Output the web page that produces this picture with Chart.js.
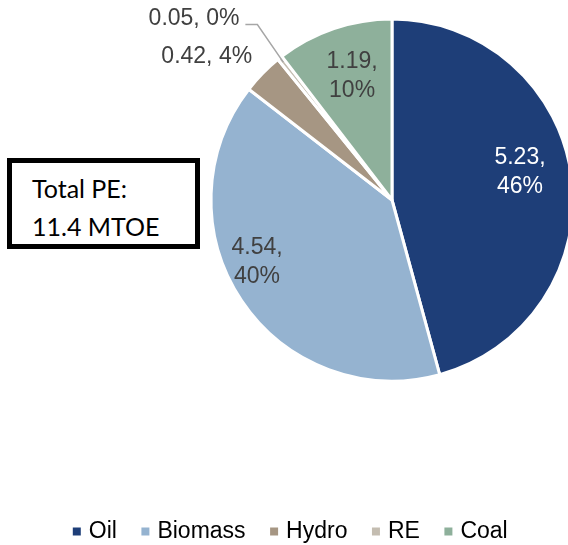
<!DOCTYPE html>
<html>
<head>
<meta charset="utf-8">
<title>Primary energy</title>
<script src="https://cdn.jsdelivr.net/npm/chart.js@4.4.1/dist/chart.umd.min.js"></script>
<style>
    html, body { margin: 0; padding: 0; background: #fff; }
    #wrap { position: relative; width: 568px; height: 545px; }
    #totalBox {
        position: absolute; left: 7px; top: 158px; width: 193px; height: 91px;
        box-sizing: border-box; border: 5px solid #000; background: #fff;
        font-family: Lato, "Open Sans", sans-serif; font-size: 25px; color: #000;
        padding: 6px 0 0 20px; line-height: 38px;
    }
</style>
</head>
<body>
<div id="wrap">
    <canvas id="pieChart" width="568" height="545"></canvas>
    <div id="totalBox">Total PE:<br>11.4 MTOE</div>
</div>
<script>
// data (MTOE)
const sources = ['Oil', 'Biomass', 'Hydro', 'RE', 'Coal'];
const values = [5.23, 4.54, 0.42, 0.05, 1.19];
const colors = ['#1e3e78', '#95b3d0', '#a69683', '#c4bdb1', '#8eb09b'];
const labelColors = ['#ffffff', '#404040', '#404040', '#404040', '#404040'];

// label placement: fraction of radius, angle shift in degrees
const labelPlace = [
    { r: 0.724, shift: -4.7, inside: true },
    { r: 0.82, shift: 9.2, inside: true },
    { r: 1.105, shift: 1.3 },
    { r: 1.31, shift: -1.8, leader: true },
    { r: 0.72, shift: 0.9, inside: true }
];

const total = values.reduce((a, b) => a + b, 0);
const labelFont = '23px "Liberation Sans", Arial, sans-serif';

// put the pie where the reference has it (legend stays centred on the page)
const pieCenter = { x: 392, y: 200 };
const pieRadius = 181;

const placePie = {
    id: 'placePie',
    afterLayout(chart) {
        const a = chart.chartArea;
        a.left = pieCenter.x - pieRadius;
        a.right = pieCenter.x + pieRadius;
        a.top = pieCenter.y - pieRadius;
        a.bottom = pieCenter.y + pieRadius;
        a.width = a.right - a.left;
        a.height = a.bottom - a.top;
    }
};

const sliceLabels = {
    id: 'sliceLabels',
    afterDatasetsDraw(chart) {
        const ctx = chart.ctx;
        const meta = chart.getDatasetMeta(0);
        ctx.save();
        ctx.font = labelFont;
        ctx.textBaseline = 'middle';
        meta.data.forEach((arc, i) => {
            const p = arc.getProps(['x', 'y', 'startAngle', 'endAngle', 'outerRadius'], true);
            const place = labelPlace[i];
            const mid = (p.startAngle + p.endAngle) / 2;
            const ang = mid + place.shift * Math.PI / 180;
            const lx = p.x + Math.cos(ang) * p.outerRadius * place.r;
            const ly = p.y + Math.sin(ang) * p.outerRadius * place.r;
            const val = values[i].toFixed(2);
            const pct = Math.round(values[i] / total * 100) + '%';
            ctx.fillStyle = labelColors[i];
            if (place.inside) {
                ctx.textAlign = 'center';
                ctx.fillText(val + ',', lx, ly - 14.5);
                ctx.fillText(pct, lx, ly + 14.5);
            } else {
                ctx.textAlign = 'right';
                ctx.fillText(val + ', ' + pct, lx, ly);
                if (place.leader) {
                    const ex = p.x + Math.cos(mid) * p.outerRadius * 0.97;
                    const ey = p.y + Math.sin(mid) * p.outerRadius * 0.97;
                    ctx.strokeStyle = '#a6a6a6';
                    ctx.lineWidth = 1.5;
                    ctx.beginPath();
                    ctx.moveTo(lx + 6, ly + 6);
                    ctx.lineTo(lx + 18, ly + 6);
                    ctx.lineTo(ex, ey);
                    ctx.stroke();
                }
            }
        });
        ctx.restore();
    }
};

new Chart(document.getElementById('pieChart'), {
    type: 'pie',
    data: {
        labels: sources,
        datasets: [{
            data: values,
            backgroundColor: colors,
            borderColor: '#ffffff',
            borderWidth: 3,
            radius: pieRadius,
            clip: false
        }]
    },
    options: {
        responsive: false,
        animation: false,
        layout: { padding: { left: 16, right: 0, top: 0, bottom: -8 } },
        plugins: {
            legend: {
                position: 'bottom',
                labels: {
                    usePointStyle: true,
                    pointStyle: 'rect',
                    boxWidth: 1,
                    boxHeight: 8,
                    padding: 28,
                    color: '#000',
                    font: { size: 23, family: '"Liberation Sans", Arial, sans-serif' },
                    generateLabels(chart) {
                        const items = Chart.overrides.pie.plugins.legend.labels.generateLabels(chart);
                        items.forEach(it => { it.lineWidth = 0; it.strokeStyle = it.fillStyle; });
                        return items;
                    }
                }
            },
            tooltip: { enabled: false }
        }
    },
    plugins: [placePie, sliceLabels]
});
</script>
</body>
</html>
